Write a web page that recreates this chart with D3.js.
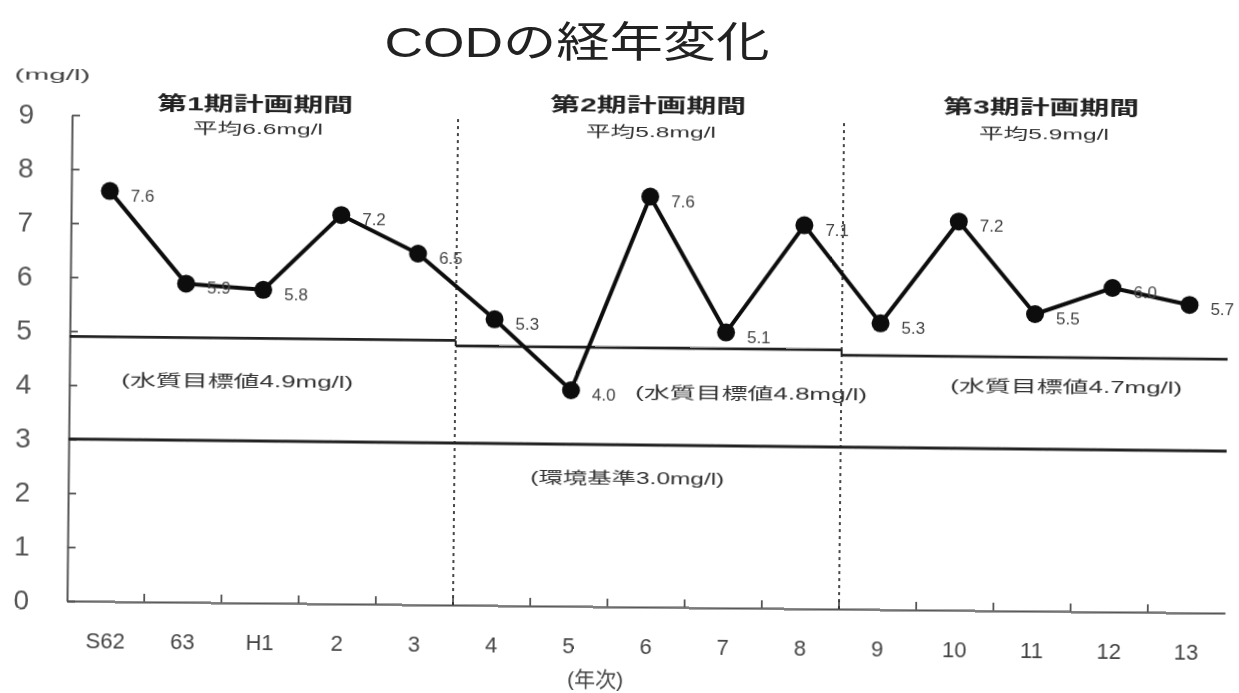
<!DOCTYPE html>
<html>
<head>
<meta charset="utf-8">
<script src="https://cdn.jsdelivr.net/npm/d3@7"></script>
<style>
  html, body { margin: 0; padding: 0; background: #fff; }
  svg { display: block; }
  text { font-family: "Liberation Sans", Arial, "Noto Sans CJK JP", sans-serif; }
</style>
</head>
<body>
<svg id="chart" width="1239" height="693"></svg>
<script>
// Fiscal years (Showa 62 → Heisei 13)
const years = ["S62", "63", "H1", "2", "3", "4", "5", "6", "7", "8", "9", "10", "11", "12", "13"];
// Annual mean COD (mg/l)
const cod = [7.6, 5.9, 5.8, 7.2, 6.5, 5.3, 4.0, 7.6, 5.1, 7.1, 5.3, 7.2, 5.5, 6.0, 5.7];
// Plan periods: name, first year, average, water-quality target
const periodNames = ["第1期計画期間", "第2期計画期間", "第3期計画期間"];
const periodFirstYear = ["S62", "4", "9"];
const periodLastYear = ["3", "8", "13"];
const periodAverages = [6.6, 5.8, 5.9];
const periodTargets = [4.9, 4.8, 4.7];
// Environmental standard (mg/l)
const envStandard = 3.0;
const yTicks = [0, 1, 2, 3, 4, 5, 6, 7, 8, 9];

const svg = d3.select("#chart");
const defs = svg.append("defs");
defs.append("filter").attr("id", "soft")
  .append("feGaussianBlur").attr("stdDeviation", 0.55);

const root = svg.append("g").attr("filter", "url(#soft)");

const x0 = 67, x1 = 1225, yBase = 601, yTop = 115;
const x = d3.scaleBand().domain(years).range([x0, x1]).padding(0);
const y = d3.scaleLinear().domain([0, 9]).range([yBase, yTop]);

// Title
root.append("text")
  .attr("x", 577).attr("y", 57)
  .attr("text-anchor", "middle")
  .attr("font-size", 42)
  .attr("textLength", 385).attr("lengthAdjust", "spacingAndGlyphs")
  .attr("fill", "#222")
  .text("CODの経年変化");

// Plot area, slightly tilted like the printed sheet
const g = root.append("g").attr("transform", `rotate(0.6, ${x0}, ${yBase})`);

// Unit label
g.append("text")
  .attr("x", 47).attr("y", 80)
  .attr("text-anchor", "middle")
  .attr("font-size", 15)
  .attr("textLength", 76).attr("lengthAdjust", "spacingAndGlyphs")
  .attr("fill", "#444")
  .text("(mg/l)");

// Y axis
const yAxis = g.append("g")
  .attr("transform", `translate(${x0},0)`)
  .call(d3.axisLeft(y).tickValues(yTicks).tickFormat(d3.format("d"))
    .tickSize(-8).tickSizeOuter(0).tickPadding(38));
yAxis.select(".domain").attr("stroke", "#555").attr("stroke-width", 2);
yAxis.selectAll(".tick line").attr("stroke", "#555").attr("stroke-width", 1.8);
yAxis.selectAll(".tick text")
  .attr("font-size", 28).attr("fill", "#555")
  .attr("font-family", "'Liberation Sans', Arial, sans-serif");

// X axis: labels at category centres, ticks at boundaries
const xAxis = g.append("g")
  .attr("transform", `translate(0,${yBase})`)
  .call(d3.axisBottom(x).tickSize(0).tickSizeOuter(0).tickPadding(31));
xAxis.select(".domain").attr("stroke", "#555").attr("stroke-width", 2);
xAxis.selectAll(".tick text")
  .attr("font-size", 22).attr("fill", "#444")
  .attr("font-family", "'Liberation Sans', Arial, sans-serif");

g.append("g").selectAll("line")
  .data(years.slice(1))
  .join("line")
  .attr("x1", d => x(d)).attr("x2", d => x(d))
  .attr("y1", yBase).attr("y2", yBase - 8)
  .attr("stroke", "#555").attr("stroke-width", 1.8);

g.append("text")
  .attr("x", 596).attr("y", 681)
  .attr("text-anchor", "middle")
  .attr("font-size", 21)
  .attr("fill", "#444")
  .text("(年次)");

// Period separators
g.append("g").selectAll("line")
  .data(periodFirstYear.slice(1))
  .join("line")
  .attr("x1", d => x(d)).attr("x2", d => x(d))
  .attr("y1", y(0)).attr("y2", y(9))
  .attr("stroke", "#333").attr("stroke-width", 1.8)
  .attr("stroke-dasharray", "3,4");

// Water-quality targets per period
const periods = periodNames.map((name, i) => ({
  name, first: periodFirstYear[i], last: periodLastYear[i],
  avg: periodAverages[i], target: periodTargets[i]
}));

g.append("g").selectAll("line")
  .data(periods)
  .join("line")
  .attr("x1", d => x(d.first)).attr("x2", d => x(d.last) + x.bandwidth())
  .attr("y1", d => y(d.target)).attr("y2", d => y(d.target))
  .attr("stroke", "#222").attr("stroke-width", 2.8);

// Step connectors between target segments
g.append("g").selectAll("line")
  .data(periods.slice(1))
  .join("line")
  .attr("x1", d => x(d.first)).attr("x2", d => x(d.first))
  .attr("y1", (d, i) => y(periods[i].target)).attr("y2", d => y(d.target))
  .attr("stroke", "#222").attr("stroke-width", 2);

// Environmental standard
g.append("line")
  .attr("x1", x0).attr("x2", x1)
  .attr("y1", y(envStandard)).attr("y2", y(envStandard))
  .attr("stroke", "#222").attr("stroke-width", 2.8);

// Period headings
const headPos = [
  { cx: 250, hy: 109, ay: 132 },
  { cx: 643, hy: 106, ay: 131 },
  { cx: 1036, hy: 104, ay: 129 }
];
g.append("g").selectAll("text")
  .data(periods)
  .join("text")
  .attr("x", (d, i) => headPos[i].cx).attr("y", (d, i) => headPos[i].hy)
  .attr("text-anchor", "middle")
  .attr("font-size", 19).attr("font-weight", "bold")
  .attr("textLength", 196).attr("lengthAdjust", "spacingAndGlyphs")
  .attr("fill", "#222")
  .text(d => d.name);

g.append("g").selectAll("text")
  .data(periods)
  .join("text")
  .attr("x", (d, i) => headPos[i].cx + 3).attr("y", (d, i) => headPos[i].ay)
  .attr("text-anchor", "middle")
  .attr("font-size", 15)
  .attr("textLength", 130).attr("lengthAdjust", "spacingAndGlyphs")
  .attr("fill", "#333")
  .text(d => `平均${d.avg.toFixed(1)}mg/l`);

// Target labels
const targetLabelPos = [
  { cx: 235, cy: 385 },
  { cx: 749, cy: 392 },
  { cx: 1064, cy: 382 }
];
g.append("g").selectAll("text")
  .data(periods)
  .join("text")
  .attr("x", (d, i) => targetLabelPos[i].cx).attr("y", (d, i) => targetLabelPos[i].cy)
  .attr("text-anchor", "middle")
  .attr("font-size", 16)
  .attr("textLength", 232).attr("lengthAdjust", "spacingAndGlyphs")
  .attr("fill", "#333")
  .text(d => `(水質目標値${d.target.toFixed(1)}mg/l)`);

g.append("text")
  .attr("x", 626).attr("y", 478)
  .attr("text-anchor", "middle")
  .attr("font-size", 16)
  .attr("textLength", 194).attr("lengthAdjust", "spacingAndGlyphs")
  .attr("fill", "#333")
  .text(`(環境基準${envStandard.toFixed(1)}mg/l)`);

// COD series
const pts = years.map((yr, i) => ({ yr, v: cod[i] }));
const cx = d => x(d.yr) + x.bandwidth() / 2;

g.append("path")
  .datum(pts)
  .attr("fill", "none")
  .attr("stroke", "#111").attr("stroke-width", 4)
  .attr("stroke-linejoin", "round")
  .attr("d", d3.line().x(cx).y(d => y(d.v)));

g.append("g").selectAll("circle")
  .data(pts)
  .join("circle")
  .attr("cx", cx).attr("cy", d => y(d.v))
  .attr("r", 9).attr("fill", "#111");

g.append("g").selectAll("text")
  .data(pts)
  .join("text")
  .attr("x", d => cx(d) + 21).attr("y", d => y(d.v) + 10)
  .attr("font-size", 17)
  .attr("fill", "#444")
  .attr("font-family", "'Liberation Sans', Arial, sans-serif")
  .text(d => d.v.toFixed(1));
</script>
</body>
</html>
